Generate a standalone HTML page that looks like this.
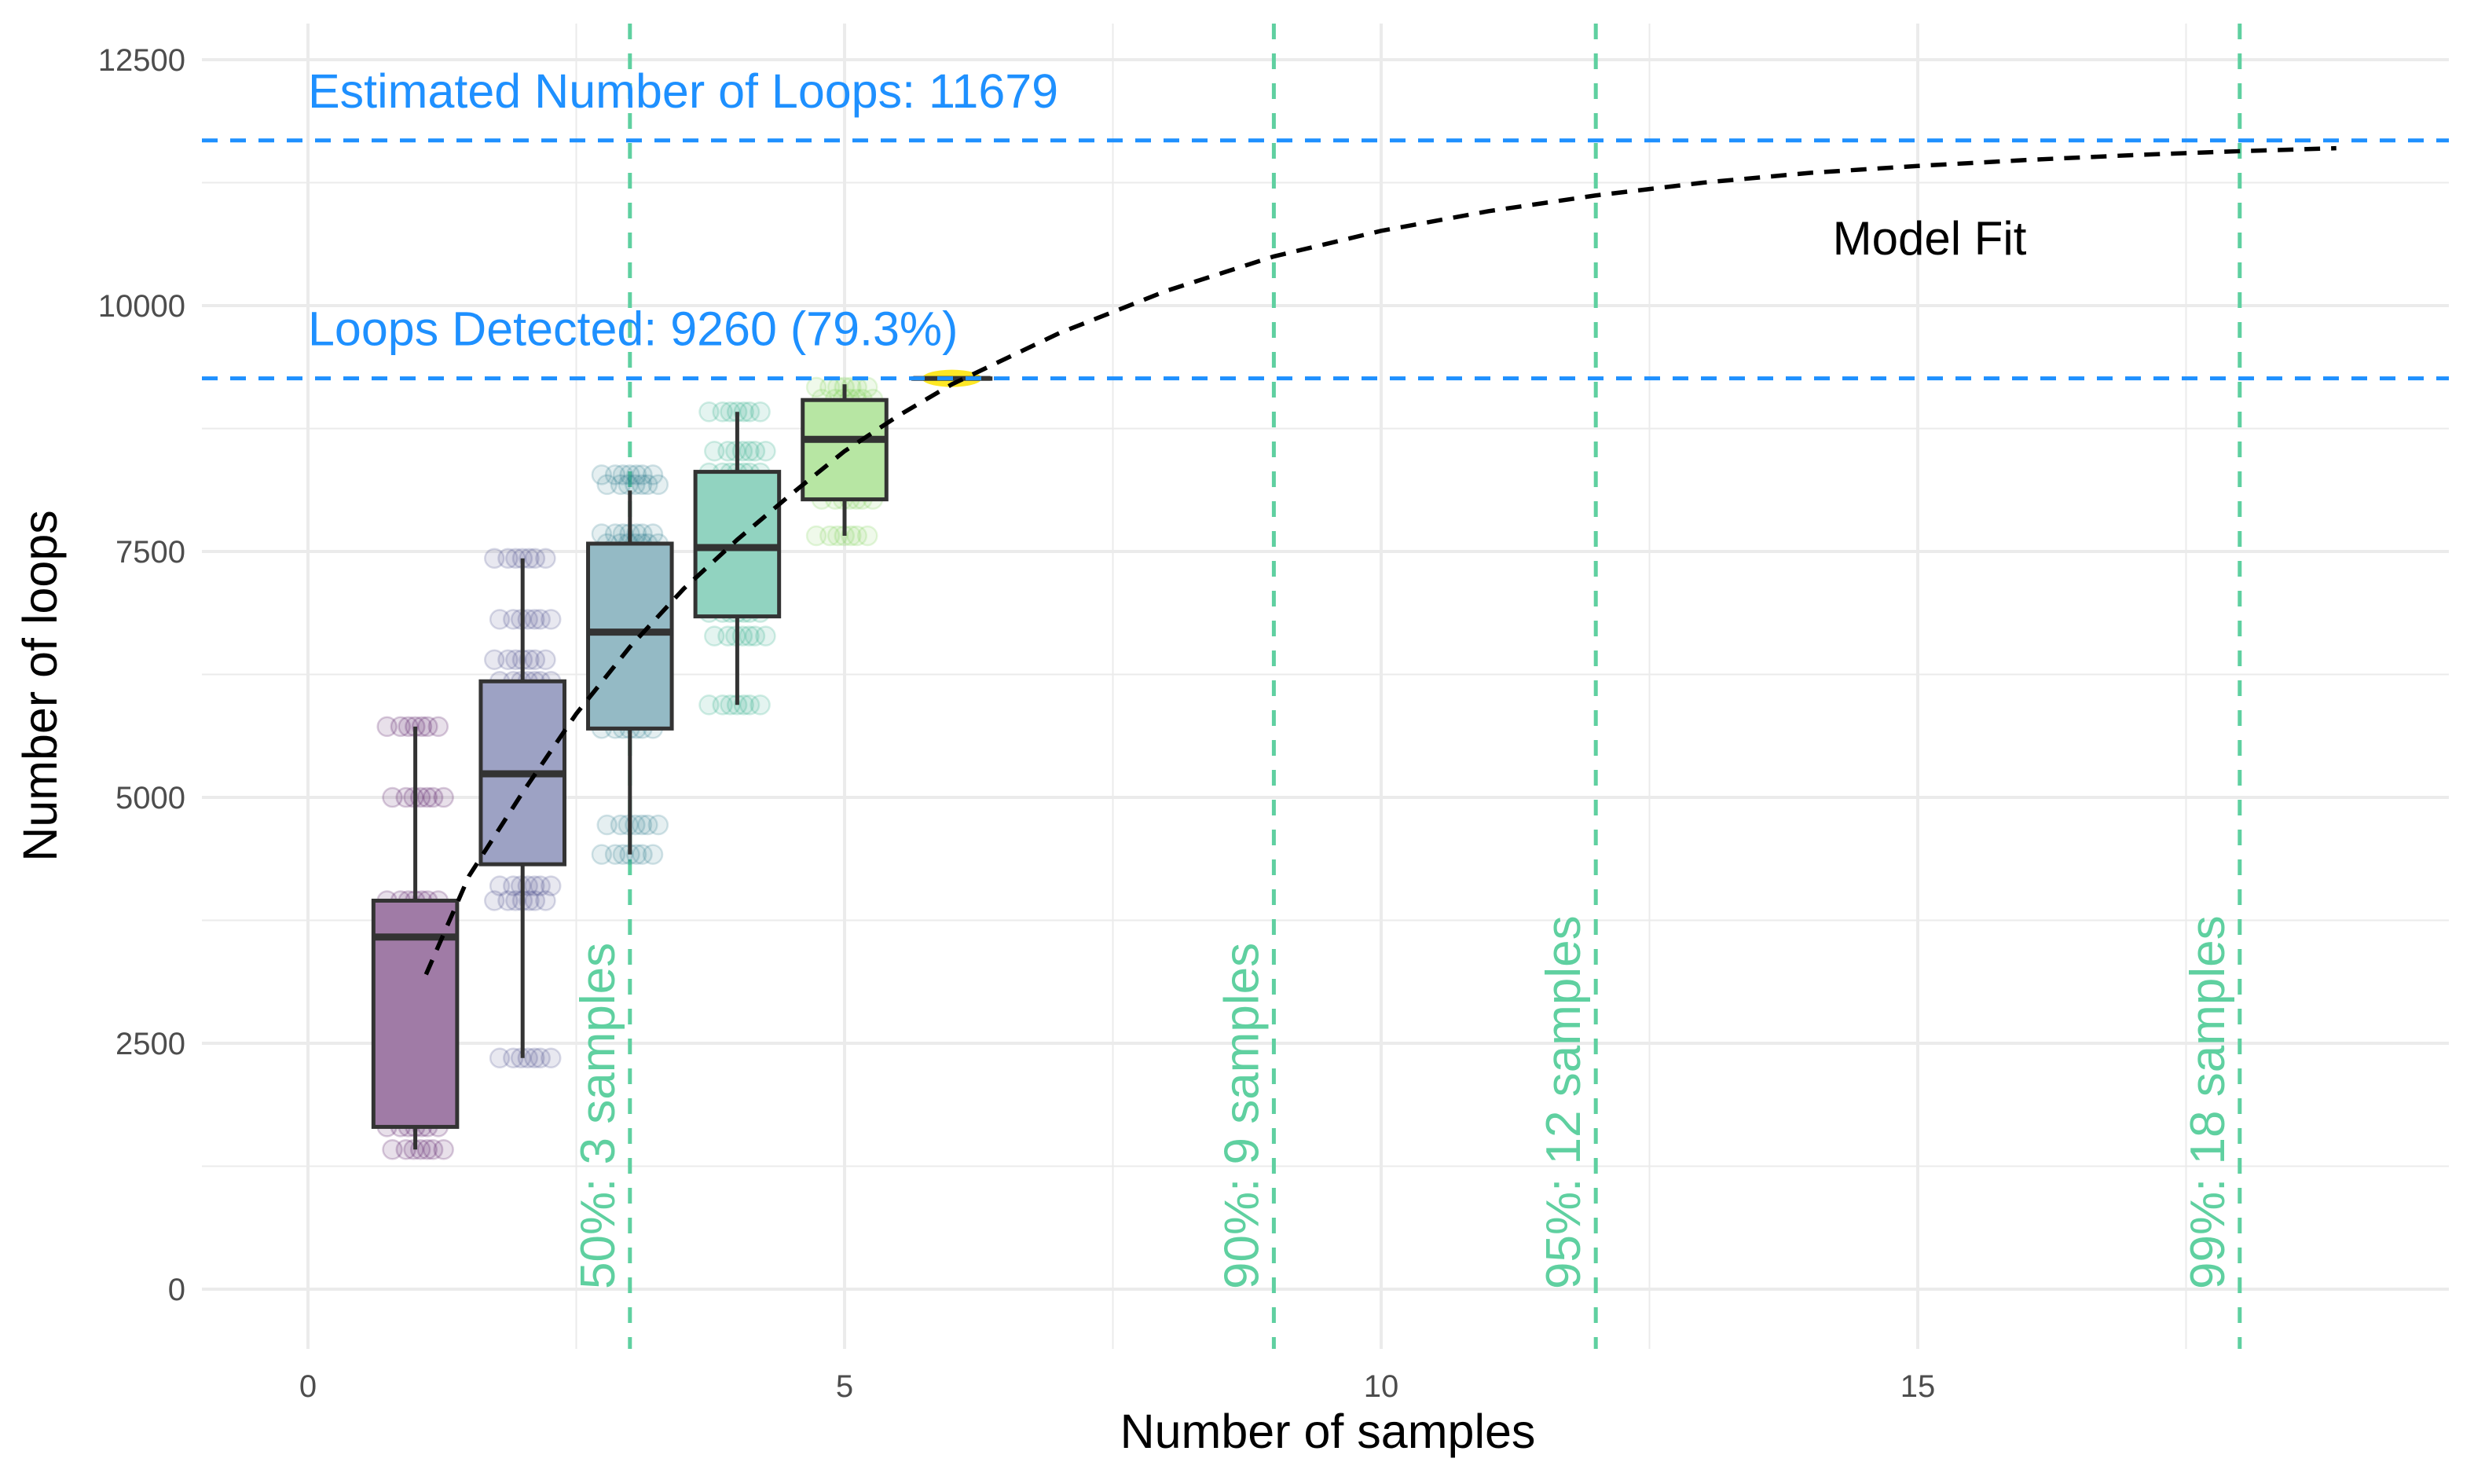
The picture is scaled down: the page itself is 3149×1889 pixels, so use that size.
<!DOCTYPE html>
<html><head><meta charset="utf-8"><style>
html,body{margin:0;padding:0;background:#fff;}
svg{display:block;font-family:"Liberation Sans",sans-serif;}
</style></head><body>
<svg id="chart" width="3149" height="1889" viewBox="0 0 3149 1889" xmlns="http://www.w3.org/2000/svg">
<g id="grid"></g>
<g id="vlines"></g>
<g id="points"></g>
<g id="boxes"></g>
<g id="fit"></g>
<g id="hlines"></g>
<g id="axes"></g>
<text x="1690" y="1843" font-size="61" text-anchor="middle" fill="#000">Number of samples</text>
<text transform="translate(72,873) rotate(-90)" font-size="61" text-anchor="middle" fill="#000">Number of loops</text>
<text x="2456" y="324" font-size="60" text-anchor="middle" fill="#000">Model Fit</text>
</svg>
<script>
const samples=[1,2,3,4,5,6];
const q1=[1650,4320,5700,6840,8030,9260];
const med=[3580,5240,6680,7540,8640,9260];
const q3=[3950,6180,7580,8310,9040,9260];
const wlo=[1420,2350,4420,5940,7660,9260];
const whi=[5720,7430,8120,8920,9200,9260];
const fills=["#a07ba6","#9da2c4","#94bac5","#91d3c0","#b7e6a3","#fde725"];
const ptColors=["#440154","#414487","#2a788e","#22a884","#7ad151","#fde725"];
const ptLevels=[
 [5720,5000,3950,3580,1650,1420],
 [7430,6810,6400,6180,5440,5000,4450,4100,3950,2350],
 [8280,8180,7680,7580,7000,6300,5700,4720,4420],
 [8920,8520,8300,7860,7540,7250,6880,6640,5940],
 [9170,9050,8620,8030,7660],
 [9260]
];
const fitX=[1.1,1.5,2,2.5,3,3.5,4,4.5,5,5.5,6,7,8,9,10,11,12,13,14,15,16,17,18,18.9];
const fitY=[3200,4200,5050,5850,6530,7120,7620,8080,8520,8880,9200,9720,10150,10500,10760,10960,11120,11250,11350,11420,11480,11530,11570,11600];
const refVals=[11679,9260];
const refLabels=["Estimated Number of Loops: 11679","Loops Detected: 9260 (79.3%)"];
const thrX=[3,9,12,18];
const thrLabels=["50%: 3 samples","90%: 9 samples","95%: 12 samples","99%: 18 samples"];
const xTicks=[0,5,10,15];
const yTicks=[0,2500,5000,7500,10000,12500];

const X=v=>392+v*136.6;
const Y=v=>1641-v*0.1252;
const NS="http://www.w3.org/2000/svg";
function mk(tag,attrs,parent){const e=document.createElementNS(NS,tag);for(const k in attrs)e.setAttribute(k,attrs[k]);parent.appendChild(e);return e;}
const L=257,R=3117,T=30,B=1717;
const grid=document.getElementById('grid');
for(let v=-1250;v<=13750;v+=1250){const y=Y(v);if(y<T||y>B)continue;const major=v%2500===0;
 const l=mk('line',{x1:L,x2:R,y1:y,y2:y,stroke:'#ebebeb','stroke-width':major?4:2},grid);
 
 }
for(let v=-2.5;v<=20;v+=2.5){const x=X(v);if(x<L||x>R)continue;const major=v%5===0;
 const l=mk('line',{x1:x,x2:x,y1:T,y2:B,stroke:'#ebebeb','stroke-width':major?4:2},grid);
 
 }
const axes=document.getElementById('axes');
xTicks.forEach(t=>{const e=mk('text',{x:X(t),y:1778,'font-size':40,'text-anchor':'middle',fill:'#4d4d4d'},axes);e.textContent=t;
 
 });
yTicks.forEach(t=>{const e=mk('text',{x:236,y:Y(t)+14,'font-size':40,'text-anchor':'end',fill:'#4d4d4d'},axes);e.textContent=t;
 
 });
const vl=document.getElementById('vlines');
thrX.forEach((t,i)=>{const x=X(t);
 const l=mk('line',{x1:x,x2:x,y1:T,y2:B,stroke:'#5fd0a0','stroke-width':5,'stroke-dasharray':'20 18'},vl);
 
 
 const tx=mk('text',{transform:`translate(${x-20},${Y(0)}) rotate(-90)`,'font-size':62,fill:'#5fd0a0'},vl);tx.textContent=thrLabels[i];
 
 });
const pg=document.getElementById('points');
const jit=[-0.27,-0.13,0.02,0.15,0.26,-0.05,0.09];
samples.forEach((s,i)=>{ptLevels[i].forEach((v,j)=>{if(i===5)return;jit.forEach((o,k)=>{
 const c=mk('circle',{cx:X(s+o*0.9+((j%2)?0.03:-0.02)),cy:Y(v),r:12,fill:ptColors[i],'fill-opacity':0.12,stroke:ptColors[i],'stroke-opacity':0.2,'stroke-width':2.5},pg);
 
 });});});
const bg=document.getElementById('boxes');
const hw=0.39;
samples.forEach((s,i)=>{const g=mk('g',{},bg);
 
 
 if(i===5){const el=mk('ellipse',{cx:X(s),cy:Y(med[i]),rx:38,ry:11,fill:'#fde725'},g);
  
  }
 mk('line',{x1:X(s),x2:X(s),y1:Y(whi[i]),y2:Y(q3[i]),stroke:'#333','stroke-width':5},g);
 mk('line',{x1:X(s),x2:X(s),y1:Y(q1[i]),y2:Y(wlo[i]),stroke:'#333','stroke-width':5},g);
 const w=i===5?0.36:hw;
 mk('rect',{x:X(s-w),y:Y(q3[i]),width:X(s+w)-X(s-w),height:Math.max(Y(q1[i])-Y(q3[i]),0.5),fill:i===5?'none':fills[i],stroke:'#333','stroke-width':5},g);
 mk('line',{x1:X(s-w),x2:X(s+w),y1:Y(med[i]),y2:Y(med[i]),stroke:'#333','stroke-width':i===5?6:9},g);});
const fg=document.getElementById('fit');
const p=mk('path',{d:fitX.map((x,i)=>(i?'L':'M')+X(x)+','+Y(fitY[i])).join(' '),fill:'none',stroke:'#000','stroke-width':5.5,'stroke-dasharray':'20 14'},fg);


const hg=document.getElementById('hlines');
refVals.forEach((v,i)=>{const l=mk('line',{x1:L,x2:R,y1:Y(v),y2:Y(v),stroke:'#1e90ff','stroke-width':5,'stroke-dasharray':'20 16'},hg);
 
 
 const t=mk('text',{x:392,y:Y(v)-42,'font-size':61,fill:'#1e90ff'},hg);t.textContent=refLabels[i];
 
 });
</script>
</body></html>
